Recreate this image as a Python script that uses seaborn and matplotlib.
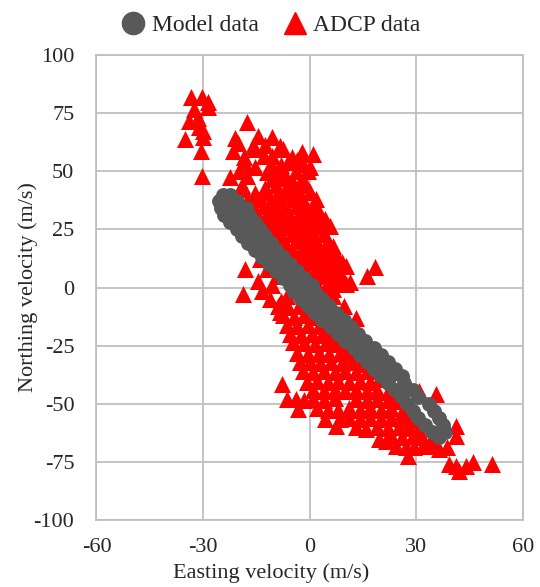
import pandas as pd
import matplotlib
matplotlib.use("Agg")
import matplotlib.pyplot as plt
import seaborn as sns
from matplotlib.lines import Line2D

adcp_top_left = [(-33.4, 81.8), (-30.4, 81.8), (-28.5, 79.7), (-32.5, 76.8), (-28.5, 77.5),
                 (-31.5, 73.0), (-34.1, 71.7), (-31.3, 68.9), (-29.9, 67.4), (-35.0, 63.9),
                 (-29.9, 64.6), (-30.6, 58.8), (-30.2, 48.1)]

adcp_upper = [(-17.7, 71.0),
              (-21.0, 64.5), (-14.5, 65.3), (-10.7, 64.6),
              (-20.1, 62.0), (-16.0, 61.0), (-12.5, 61.5), (-8.5, 61.0),
              (-21.5, 58.8), (-15.4, 59.5), (-7.5, 59.6), (-2.3, 58.1), (0.9, 57.4),
              (-18.5, 56.0), (-13.0, 56.5), (-10.5, 56.7), (-5.0, 56.0), (-3.5, 55.0),
              (-18.2, 53.0), (-15.5, 52.0), (-11.0, 53.0), (-8.0, 52.5), (-6.0, 54.0), (-2.0, 53.0), (0.0, 52.0),
              (-20.0, 50.0), (-12.0, 49.5), (-9.0, 50.5), (-7.0, 48.5), (-4.0, 50.0), (-0.5, 50.2),
              (-22.4, 47.4), (-17.7, 48.1), (-10.5, 46.5), (-8.0, 47.0), (-5.0, 46.0), (-2.0, 46.5),
              (-19.0, 44.0), (-12.5, 43.0), (-9.5, 44.0), (-6.5, 43.5), (-3.0, 44.0), (-1.9, 44.5),
              (-19.1, 42.4), (-15.5, 40.5), (-12.0, 41.0), (-9.0, 40.5), (-6.0, 41.0), (-3.0, 40.5), (0.0, 41.0),
              (-17.5, 38.0), (-14.0, 38.0), (-11.0, 37.5), (-8.0, 38.0), (-5.0, 38.0), (-2.0, 37.5), (1.9, 38.1),
              (-16.0, 35.0), (-13.0, 35.0), (-10.0, 34.5), (-7.0, 35.0), (-4.0, 35.0), (-1.0, 34.5), (1.9, 35.0),
              (-15.0, 32.0), (-12.0, 31.5), (-9.0, 32.0), (-6.0, 32.0), (-3.0, 31.5), (0.0, 32.0), (2.5, 32.0),
              (-14.0, 29.0), (-11.0, 28.5), (-8.0, 29.0), (-5.0, 29.0), (-2.0, 28.5), (1.0, 29.0), (4.2, 29.5),
              (-12.5, 26.0), (-9.5, 25.5), (-6.5, 26.0), (-3.5, 26.0), (-0.5, 25.5), (2.5, 26.0), (5.6, 26.6),
              (-11.0, 23.0), (-8.0, 22.5), (-5.0, 23.0), (-2.0, 23.0), (1.0, 22.5), (4.0, 23.0),
              (-10.0, 20.0), (-7.0, 19.5), (-4.0, 20.0), (-1.0, 20.0), (2.0, 19.5), (5.0, 20.0), (6.5, 18.0),
              (-8.0, 17.0), (-5.0, 16.5), (-2.0, 17.0), (1.0, 17.0), (4.0, 16.5), (6.5, 16.6),
              (-7.0, 14.0), (-4.0, 13.5), (-1.0, 14.0), (2.0, 14.0), (5.0, 13.5), (7.5, 14.0),
              (-5.5, 11.0), (-2.5, 10.5), (0.5, 11.0), (3.5, 11.0), (6.5, 10.5), (9.0, 11.0),
              (-4.0, 8.0), (-1.0, 7.5), (2.0, 8.0), (5.0, 8.0), (8.0, 7.5), (10.3, 9.4), (18.5, 8.8),
              (-2.5, 5.0), (0.5, 4.5), (3.5, 5.0), (6.5, 5.0), (9.0, 4.5), (16.0, 4.9),
              (-1.0, 2.0), (2.0, 1.5), (5.0, 2.0), (8.0, 2.0), (11.2, 2.4),
              (1.0, -1.0), (4.0, -1.5), (6.5, -0.5), (10.3, 1.5),
              (3.0, -4.0), (6.5, -3.5), (9.5, -8.0), (13.0, -13.0)]

adcp_left = [(-14.0, 12.3), (-18.2, 8.0), (-12.0, 8.0), (-14.5, 2.9), (-10.5, 1.0),
             (-18.7, -2.8), (-13.5, -1.4), (-9.3, 5.1), (-11.2, -5.0), (-8.4, -10.6),
             (-6.5, -3.5), (-8.0, -6.0)]

adcp_lower = [(-9.0, -8.0), (-6.0, -8.5), (-3.0, -8.0),
              (-7.5, -12.0), (-4.5, -12.5), (-1.5, -12.0), (1.5, -12.5),
              (-6.5, -16.0), (-3.5, -16.5), (-0.5, -16.0), (2.5, -16.5), (5.0, -17.0),
              (-5.5, -20.0), (-2.5, -20.5), (0.5, -20.0), (3.5, -20.5), (6.0, -21.0),
              (-4.7, -23.6), (-1.5, -24.0), (1.5, -24.5), (4.5, -24.0), (7.5, -24.5), (9.5, -25.0),
              (-3.5, -28.0), (-0.5, -28.5), (2.5, -28.0), (5.5, -28.5), (8.5, -28.0), (11.0, -29.0),
              (-2.8, -32.2), (0.0, -32.0), (3.0, -32.5), (6.0, -32.0), (9.0, -32.5), (12.0, -32.0), (14.0, -33.0),
              (-2.0, -36.0), (1.0, -36.5), (4.0, -36.0), (7.0, -36.5), (10.0, -36.0), (13.0, -36.5), (16.0, -36.0),
              (-0.9, -40.8), (2.0, -40.0), (5.0, -40.5), (8.0, -40.0), (11.0, -40.5), (14.0, -40.0), (17.0, -40.5), (19.6, -39.4),
              (-7.9, -41.5),
              (1.0, -44.0), (4.0, -44.5), (7.0, -44.0), (10.0, -44.5), (13.0, -44.0), (16.0, -44.5), (19.0, -44.0), (22.0, -45.0),
              (-6.5, -48.0), (-4.0, -48.0), (-1.5, -48.5), (1.0, -48.0), (4.0, -48.5), (7.0, -47.5),
              (13.0, -48.0), (16.0, -48.5), (19.0, -48.0), (22.0, -48.5), (24.5, -49.0),
              (-3.3, -52.3), (2.0, -52.0), (5.0, -52.5), (8.0, -52.5), (11.0, -52.0), (14.0, -52.5),
              (17.0, -52.0), (20.0, -52.5), (23.0, -52.0), (26.0, -53.7),
              (4.2, -56.6), (8.4, -56.6), (11.0, -56.0), (14.0, -56.5), (17.0, -56.0), (20.0, -56.5),
              (23.0, -56.0), (26.0, -56.5), (28.5, -57.0),
              (7.5, -59.4), (13.0, -60.0), (15.9, -60.9), (19.0, -60.0), (22.0, -60.5), (25.0, -60.0),
              (28.0, -60.5), (30.5, -61.0),
              (19.6, -65.2), (21.5, -65.9), (23.0, -64.0), (26.0, -64.5), (29.0, -64.0), (31.5, -64.5), (34.0, -65.5),
              (24.3, -68.0), (27.0, -68.5), (29.4, -68.7), (32.0, -68.0), (35.0, -68.0), (36.4, -69.5),
              (27.6, -72.3)]

adcp_tip = [(30.8, -44.4), (35.5, -45.8), (41.1, -59.4), (41.1, -63.7), (38.5, -68.5),
            (39.2, -75.9), (41.1, -76.6), (42.0, -78.8), (43.9, -76.6), (45.8, -75.2), (51.4, -75.9)]

# model output (easting, northing), a narrow loop
model_band = [(-24.5, 40.0), (-22.5, 40.0),
              (-25.5, 37.0), (-23.0, 37.0), (-20.5, 37.0),
              (-25.0, 34.0), (-22.5, 34.0), (-20.0, 34.0), (-18.0, 34.0),
              (-24.0, 31.0), (-21.5, 31.0), (-19.0, 31.0), (-17.0, 31.0),
              (-22.5, 28.0), (-20.0, 28.0), (-17.5, 28.0), (-15.5, 28.0),
              (-20.5, 25.0), (-18.0, 25.0), (-16.0, 25.0), (-14.0, 25.0),
              (-19.0, 22.0), (-16.5, 22.0), (-14.5, 22.0), (-12.5, 22.0),
              (-17.5, 19.0), (-15.0, 19.0), (-13.0, 19.0), (-11.0, 19.0),
              (-15.5, 16.0), (-13.5, 16.0), (-11.5, 16.0), (-9.5, 16.0),
              (-13.5, 13.0), (-11.5, 13.0), (-9.5, 13.0), (-7.5, 13.0),
              (-11.5, 10.0), (-9.5, 10.0), (-7.5, 10.0), (-5.5, 10.0),
              (-9.5, 7.0), (-7.5, 7.0), (-5.5, 7.0), (-3.5, 7.0),
              (-7.5, 4.0), (-5.5, 4.0), (-3.5, 4.0), (-1.5, 4.0),
              (-5.5, 1.0), (-3.5, 1.0), (-1.5, 1.0), (0.5, 1.0),
              (-4.5, -2.0), (-2.0, -2.0), (0.0, -2.0), (1.5, -2.0),
              (-2.5, -5.0), (0.0, -5.0), (2.0, -5.0), (3.5, -5.0),
              (-0.5, -8.0), (2.0, -8.0), (4.0, -8.0), (5.5, -8.0),
              (1.5, -11.0), (4.0, -11.0), (6.0, -11.0), (7.5, -11.0),
              (3.5, -14.0), (6.0, -14.0), (8.0, -14.0), (9.5, -14.0),
              (6.0, -17.0), (8.0, -17.0), (10.0, -17.0), (11.5, -17.0),
              (8.0, -20.0), (10.0, -20.0), (12.0, -20.0), (13.5, -20.0),
              (10.0, -23.0), (12.0, -23.0), (14.0, -23.0), (15.5, -23.0)]

model_loop = [(12.5, -26.0), (14.5, -26.0), (16.5, -26.0), (18.0, -26.0),
              (14.0, -29.0), (18.5, -29.0), (20.0, -29.0),
              (16.0, -32.0), (20.5, -32.0), (22.0, -32.0),
              (18.0, -35.0), (22.5, -35.0), (24.0, -35.0),
              (20.0, -38.0), (22.5, -38.0), (26.0, -38.0),
              (22.0, -41.0), (26.5, -41.0),
              (24.0, -44.0), (26.0, -44.0), (29.0, -44.0),
              (26.0, -47.0), (30.5, -47.0),
              (27.5, -50.0), (33.5, -50.0),
              (29.0, -53.0), (35.0, -53.0),
              (30.5, -56.0), (36.3, -56.0),
              (32.5, -59.0), (37.5, -59.0),
              (34.5, -62.0), (38.0, -62.0),
              (36.5, -64.5)]

adcp = pd.DataFrame(adcp_top_left + adcp_upper + adcp_left + adcp_lower + adcp_tip,
                    columns=["east", "north"])
model = pd.DataFrame(model_band + model_loop, columns=["east", "north"])

sns.set_theme(style="white")
plt.rcParams["font.family"] = ["Liberation Serif", "DejaVu Serif"]
plt.rcParams["axes.unicode_minus"] = False

grey = "#bfbfbf"
text_col = "#262626"
fig = plt.figure(figsize=(5.4, 5.87), dpi=100)
ax = fig.add_axes([0.1787, 0.1141, 0.7898, 0.7922])

sns.scatterplot(data=adcp, x="east", y="north", marker="^", color="#ff0000",
                s=150, linewidth=0, ax=ax, zorder=3)
sns.scatterplot(data=model, x="east", y="north", marker="o", color="#595959",
                s=115, linewidth=0, ax=ax, zorder=4)

ax.set_xlim(-60, 60)
ax.set_ylim(-100, 100)
ax.set_xticks([-60, -30, 0, 30, 60])
ax.set_yticks(range(-100, 101, 25))
ax.grid(True, color=grey, linewidth=1.3)
ax.set_axisbelow(True)
for sp in ax.spines.values():
    sp.set_color(grey)
    sp.set_linewidth(1.3)
ax.tick_params(length=0, labelsize=16, colors=text_col)
ax.tick_params(axis="y", pad=16)
ax.tick_params(axis="x", pad=13)
ax.set_xlabel("Easting velocity (m/s)", fontsize=16, color=text_col)
ax.set_ylabel("Northing velocity (m/s)", fontsize=16, color=text_col, labelpad=-3)
# the x title sits left of centre in the original
ax.xaxis.set_label_coords(0.409, -0.092)

handles = [Line2D([], [], marker="o", linestyle="", color="#595959", markersize=16),
           Line2D([], [], marker="^", linestyle="", color="#ff0000", markersize=16)]
fig.legend(handles, ["Model data", "ADCP data"], loc="center", bbox_to_anchor=(0.5, 0.957),
           ncol=2, frameon=False, fontsize=17, handletextpad=0.2, columnspacing=0.9,
           handlelength=1.2)

fig.savefig("out.png", dpi=100)
